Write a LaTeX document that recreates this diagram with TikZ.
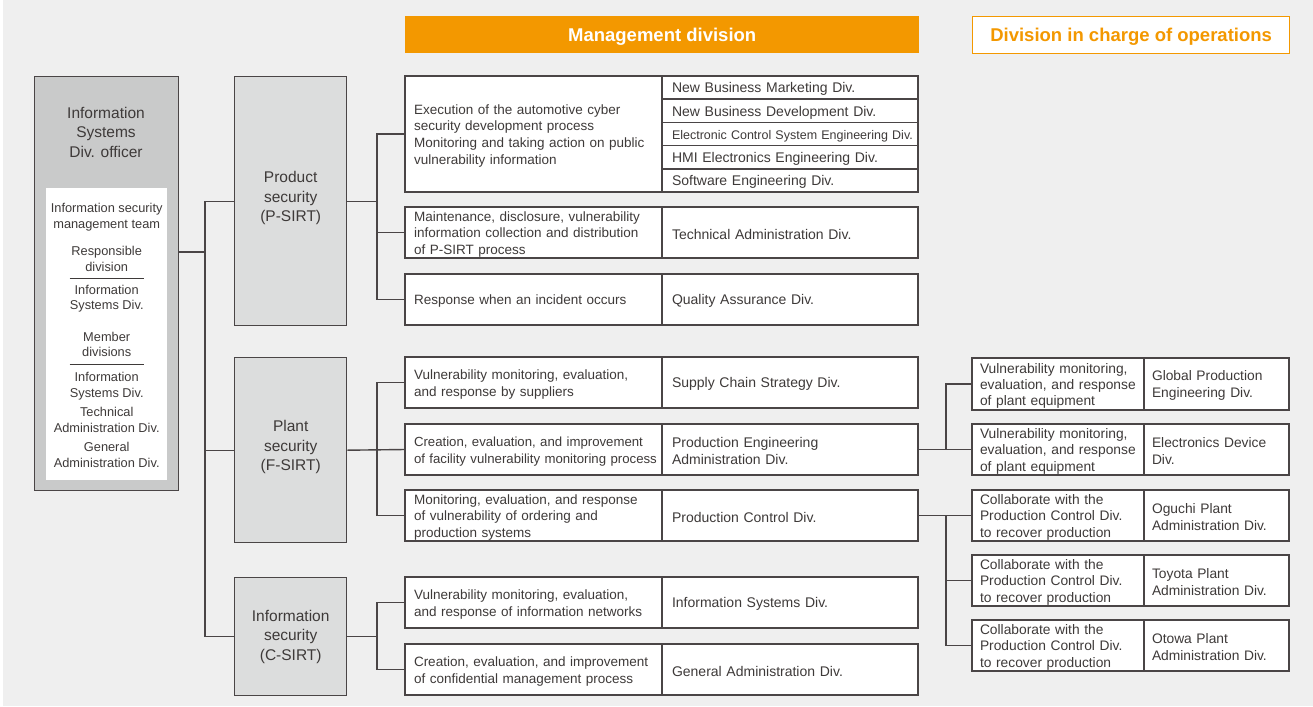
\documentclass[tikz,border=0pt]{standalone}
\usepackage{fontspec}
\setmainfont{Liberation Sans}
\usetikzlibrary{positioning}
\definecolor{bggray}{HTML}{EFEFEF}
\definecolor{officergray}{HTML}{C9CACA}
\definecolor{sirtgray}{HTML}{DCDDDD}
\definecolor{linegray}{HTML}{4A4546}
\definecolor{textgray}{HTML}{3E3A39}
\definecolor{toyorange}{HTML}{F39800}

\tikzset{
  cell/.style={draw=linegray, line width=1.4pt, fill=white, text=textgray, outer sep=0pt, inner ysep=0pt, align=left, execute at begin node={\rule{0pt}{13.5pt}}},
  task/.style={cell, anchor=north west, inner xsep=9pt, text width=239pt, minimum height=51pt, font=\fontsize{13.5}{16.8}\selectfont},
  div/.style={cell, inner xsep=10pt, text width=236pt, minimum height=51pt, font=\fontsize{14}{16.8}\selectfont},
  optask/.style={cell, anchor=north west, inner xsep=8pt, text width=156pt, minimum height=51pt, font=\fontsize{13.8}{16.3}\selectfont},
  opdiv/.style={cell, inner xsep=8pt, text width=129pt, minimum height=51pt, font=\fontsize{13.8}{16.8}\selectfont},
  sirt/.style={draw=linegray, line width=1.4pt, fill=sirtgray, text=textgray, anchor=north west, minimum width=112pt, align=center, font=\fontsize{15.5}{19.5}\selectfont},
  head/.style={anchor=north west, minimum height=37pt, text depth=0pt, font=\bfseries\fontsize{18.5}{22}\selectfont},
  conn/.style={draw=linegray, line width=1.4pt},
}

\begin{document}
\begin{tikzpicture}[x=1pt, y=-1pt]

  \useasboundingbox (0,0) rectangle (1313,706);
  \fill[bggray] (3,0) rectangle (1313,706);

  % Headers
  \node[head, fill=toyorange, text=white, minimum width=514pt] (mgmt) at (405,16) {Management division};
  \node[head, draw=toyorange, line width=1.2pt, fill=white, text=toyorange, minimum width=317pt] (ops) at (972,16) {Division in charge of operations};

  % Officer and team
  \node[draw=linegray, line width=1.4pt, fill=officergray, anchor=north west, minimum width=144pt, minimum height=414pt] (officer) at (34,76) {};
  \node[text=textgray, align=center, font=\fontsize{15.5}{19.5}\selectfont] (offtitle) at (106,132) {Information\\Systems\\Div. officer};
  \node[fill=white, anchor=north west, minimum width=121pt, minimum height=292pt, inner sep=0pt, text=textgray, align=center, font=\fontsize{12.8}{15.5}\selectfont] (team) at (46,188)
    {\rule{0pt}{12pt}Information security\\management team\\[12pt]
     Responsible\\division\\[-8pt]
     \rule{74pt}{0.8pt}\\[0pt]
     Information\\Systems Div.\\[16pt]
     Member\\divisions\\[-8pt]
     \rule{74pt}{0.8pt}\\[2pt]
     Information\\Systems Div.\\[4pt]
     Technical\\Administration Div.\\[4pt]
     General\\Administration Div.};

  % SIRT boxes
  \node[sirt, minimum height=249pt, text depth=9pt] (psirt) at (234,76) {Product\\security\\(P-SIRT)};
  \node[sirt, minimum height=185pt, text depth=9pt] (fsirt) at (234,357) {Plant\\security\\(F-SIRT)};
  \node[sirt, minimum height=118pt] (csirt) at (234,577) {Information\\security\\(C-SIRT)};

  % Product security rows
  \node[task, minimum height=116pt, execute at begin node={}] (p1task) at (405,76) {Execution of the automotive cyber\\security development process\\Monitoring and taking action on public\\vulnerability information};
  \node[div, anchor=north west, minimum height=23.2pt] (p1div1) at (p1task.north east) {New Business Marketing Div.};
  \node[div, minimum height=23.2pt, below=0pt of p1div1] (p1div2) {New Business Development Div.};
  \node[div, minimum height=23.2pt, below=0pt of p1div2, font=\fontsize{12.5}{15}\selectfont] (p1div3) {\mbox{Electronic Control System Engineering Div.}};
  \node[div, minimum height=23.2pt, below=0pt of p1div3] (p1div4) {HMI Electronics Engineering Div.};
  \node[div, minimum height=23.2pt, below=0pt of p1div4] (p1div5) {Software Engineering Div.};

  \node[task] (p2task) at (405,207) {Maintenance, disclosure, vulnerability\\information collection and distribution\\of P-SIRT process};
  \node[div, right=0pt of p2task] (p2div) {Technical Administration Div.};
  \node[task] (p3task) at (405,274) {Response when an incident occurs};
  \node[div, right=0pt of p3task] (p3div) {Quality Assurance Div.};

  % Plant security rows
  \node[task] (f1task) at (405,357) {Vulnerability monitoring, evaluation,\\and response by suppliers};
  \node[div, right=0pt of f1task] (f1div) {Supply Chain Strategy Div.};
  \node[task, font=\fontsize{13.2}{16.8}\selectfont] (f2task) at (405,424) {Creation, evaluation, and improvement\\\mbox{of facility vulnerability monitoring process}};
  \node[div, right=0pt of f2task] (f2div) {Production Engineering\\Administration Div.};
  \node[task] (f3task) at (405,490) {Monitoring, evaluation, and response\\of vulnerability of ordering and\\production systems};
  \node[div, right=0pt of f3task] (f3div) {Production Control Div.};

  % Information security rows
  \node[task] (c1task) at (405,577) {Vulnerability monitoring, evaluation,\\and response of information networks};
  \node[div, right=0pt of c1task] (c1div) {Information Systems Div.};
  \node[task] (c2task) at (405,644) {Creation, evaluation, and improvement\\of confidential management process};
  \node[div, right=0pt of c2task] (c2div) {General Administration Div.};

  % Operations rows
  \node[optask, minimum height=52pt] (op1task) at (972,358) {Vulnerability monitoring,\\evaluation, and response\\of plant equipment};
  \node[opdiv, minimum height=52pt, right=0pt of op1task] (op1div) {Global Production\\Engineering Div.};
  \node[optask] (op2task) at (972,424) {Vulnerability monitoring,\\evaluation, and response\\of plant equipment};
  \node[opdiv, right=0pt of op2task] (op2div) {Electronics Device\\Div.};
  \node[optask] (op3task) at (972,490) {Collaborate with the\\Production Control Div.\\to recover production};
  \node[opdiv, right=0pt of op3task] (op3div) {Oguchi Plant\\Administration Div.};
  \node[optask] (op4task) at (972,555) {Collaborate with the\\Production Control Div.\\to recover production};
  \node[opdiv, right=0pt of op4task] (op4div) {Toyota Plant\\Administration Div.};
  \node[optask] (op5task) at (972,620) {Collaborate with the\\Production Control Div.\\to recover production};
  \node[opdiv, right=0pt of op5task] (op5div) {Otowa Plant\\Administration Div.};

  % Bus coordinates
  \coordinate (hub) at (205,252);
  \coordinate (sbus) at (377,0);
  \coordinate (obus) at (946,0);

  % Draw connectors between nodes
  \draw[conn] (psirt.west) -| (hub) |- (csirt.west);
  \draw[conn] (officer.east |- hub) -- (hub);
  \draw[conn] (hub |- fsirt) -- (fsirt.west);

  \draw[conn] (p1task.west) -| (sbus |- p3task.west) -- (p3task.west);
  \draw[conn] (psirt.east) -- (sbus |- psirt.east);
  \draw[conn] (sbus |- p2task.west) -- (p2task.west);

  \draw[conn] (f1task.west) -| (sbus |- f3task.west) -- (f3task.west);
  \draw[conn] (fsirt.east) -- (f2task.west);

  \draw[conn] (c1task.west) -| (sbus |- c2task.west) -- (c2task.west);
  \draw[conn] (csirt.east) -- (sbus |- csirt.east);

  \draw[conn] (op1task.west) -| (obus |- op2task.west) -- (op2task.west);
  \draw[conn] (f2div.east) -- (obus |- f2div.east);
  \draw[conn] (f3div.east) -- (op3task.west);
  \draw[conn] (obus |- op3task.west) |- (op5task.west);
  \draw[conn] (obus |- op4task.west) -- (op4task.west);

\end{tikzpicture}
\end{document}
